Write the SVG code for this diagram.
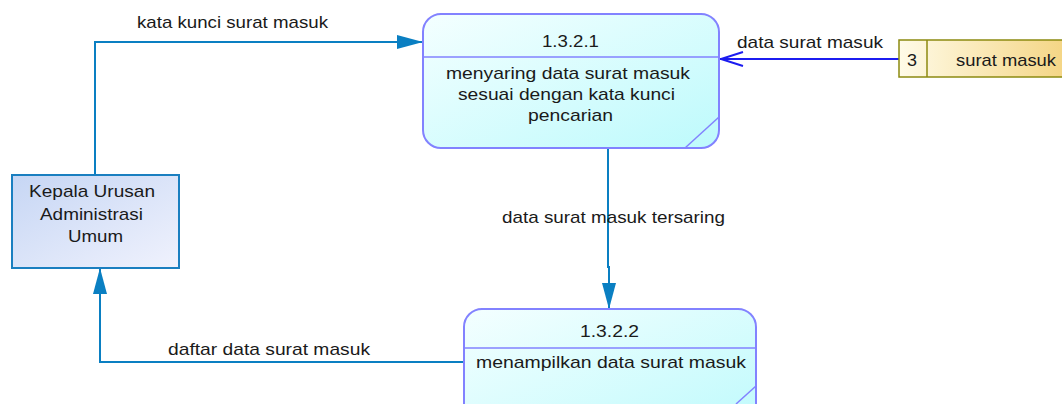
<svg xmlns="http://www.w3.org/2000/svg" width="1062" height="404" viewBox="0 0 1062 404">
  <style>
    text { font-family: "Liberation Sans", Arial, sans-serif; font-size: 17px; fill: #1a1a1a; }
    .flow { fill: none; stroke: #0a7fc2; stroke-width: 2; }
    .proc { stroke: #8282ff; stroke-width: 2; }
    .pline { fill: none; stroke: #8282ff; stroke-width: 1.5; }
  </style>
  <defs>
    <linearGradient id="procFill" x1="0" y1="0" x2="1" y2="1">
      <stop offset="0" stop-color="#f4ffff"/>
      <stop offset="1" stop-color="#bdfafc"/>
    </linearGradient>
    <linearGradient id="entFill" x1="0" y1="0" x2="1" y2="1">
      <stop offset="0" stop-color="#c6d6f4"/>
      <stop offset="1" stop-color="#f0f2fd"/>
    </linearGradient>
    <linearGradient id="storeFill" x1="0" y1="0" x2="1" y2="0">
      <stop offset="0" stop-color="#fffbe8"/>
      <stop offset="1" stop-color="#f3d27c"/>
    </linearGradient>
    <marker id="solidArrow" viewBox="0 0 26 14" refX="26" refY="7" markerWidth="26" markerHeight="14" markerUnits="userSpaceOnUse" orient="auto">
      <path d="M0,0 L26,7 L0,14 Z" fill="#0a7fc2"/>
    </marker>
  </defs>

  <!-- connectors -->
  <g id="connectors">
    <polyline class="flow" points="95,174 95,42 423,42" marker-end="url(#solidArrow)"/>
    <polyline class="flow" points="608,149 608,267 609,267 609,309" marker-end="url(#solidArrow)"/>
    <polyline class="flow" points="464,362 100,362 100,268" marker-end="url(#solidArrow)"/>
    <g id="store-flow">
      <line x1="899" y1="59" x2="720" y2="59" stroke="#1c1cf0" stroke-width="2"/>
      <polyline points="743,52 721,59 743,66" fill="none" stroke="#1c1cf0" stroke-width="2"/>
    </g>
    <text x="137" y="28" textLength="191" lengthAdjust="spacingAndGlyphs">kata kunci surat masuk</text>
    <text x="737" y="48" textLength="146" lengthAdjust="spacingAndGlyphs">data surat masuk</text>
    <text x="502" y="223" textLength="223" lengthAdjust="spacingAndGlyphs">data surat masuk tersaring</text>
    <text x="168" y="355" textLength="202" lengthAdjust="spacingAndGlyphs">daftar data surat masuk</text>
  </g>

  <!-- process 1.3.2.1 -->
  <g id="proc-1321">
    <rect class="proc" x="423" y="14" width="296" height="134" rx="18" ry="18" fill="url(#procFill)"/>
    <line class="pline" x1="423" y1="57" x2="719" y2="57"/>
    <line class="pline" x1="719" y1="117" x2="685" y2="148"/>
    <text x="542" y="47" textLength="57" lengthAdjust="spacingAndGlyphs">1.3.2.1</text>
    <text x="446" y="79" textLength="244" lengthAdjust="spacingAndGlyphs">menyaring data surat masuk</text>
    <text x="458" y="100" textLength="217" lengthAdjust="spacingAndGlyphs">sesuai dengan kata kunci</text>
    <text x="528" y="121" textLength="85" lengthAdjust="spacingAndGlyphs">pencarian</text>
  </g>

  <!-- process 1.3.2.2 -->
  <g id="proc-1322">
    <rect class="proc" x="464" y="309" width="292" height="130" rx="18" ry="18" fill="url(#procFill)"/>
    <line class="pline" x1="464" y1="348" x2="756" y2="348"/>
    <line class="pline" x1="756" y1="386" x2="736" y2="404"/>
    <text x="580" y="337" textLength="59" lengthAdjust="spacingAndGlyphs">1.3.2.2</text>
    <text x="476" y="368" textLength="270" lengthAdjust="spacingAndGlyphs">menampilkan data surat masuk</text>
  </g>

  <!-- external entity -->
  <g id="entity-kepala">
    <rect x="12" y="175" width="167" height="93" fill="url(#entFill)" stroke="#1a7fc0" stroke-width="2"/>
    <text x="29" y="197" textLength="126" lengthAdjust="spacingAndGlyphs">Kepala Urusan</text>
    <text x="40" y="220" textLength="103" lengthAdjust="spacingAndGlyphs">Administrasi</text>
    <text x="68" y="242" textLength="55" lengthAdjust="spacingAndGlyphs">Umum</text>
  </g>

  <!-- data store 3 -->
  <g id="store-3">
    <rect x="899" y="40" width="180" height="37" fill="url(#storeFill)" stroke="#8c8a10" stroke-width="1.5"/>
    <line x1="927" y1="40" x2="927" y2="77" stroke="#8c8a10" stroke-width="1.5"/>
    <text x="907" y="66" textLength="10" lengthAdjust="spacingAndGlyphs">3</text>
    <text x="956" y="66" textLength="100" lengthAdjust="spacingAndGlyphs">surat masuk</text>
  </g>
</svg>
